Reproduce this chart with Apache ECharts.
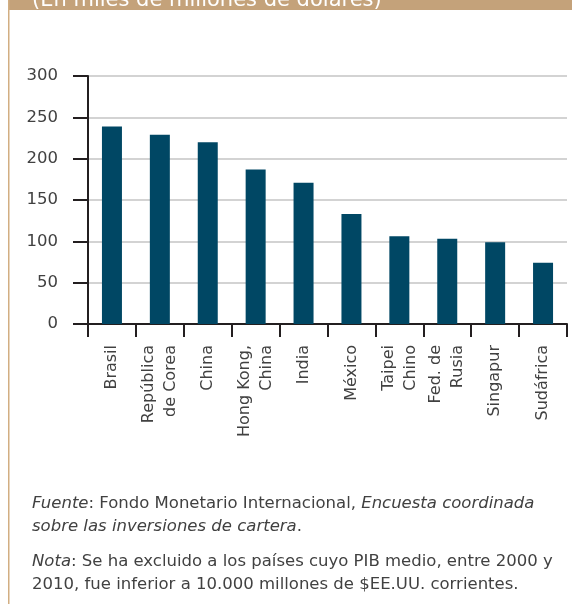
<!DOCTYPE html>
<html>
<head>
<meta charset="utf-8">
<script src="https://cdn.jsdelivr.net/npm/echarts@6/dist/echarts.min.js"></script>
<style>
  html, body { margin: 0; padding: 0; background: #ffffff; }
  #chart { width: 572px; height: 604px; }
</style>
</head>
<body>
<div id="chart"></div>
<script>
// Portfolio investment by country (billions of US dollars)
const categories = ['Brasil', 'República\nde Corea', 'China', 'Hong Kong,\nChina', 'India',
  'México', 'Taipei\nChino', 'Fed. de\nRusia', 'Singapur', 'Sudáfrica'];
const values = [239, 229, 220, 187, 171, 133, 106, 103, 99, 74];
const yTicks = [0, 50, 100, 150, 200, 250, 300];

const headerText = '(En miles de millones de dólares)';
const sourceText = '{i|Fuente}: Fondo Monetario Internacional, {i|Encuesta coordinada}\n{i|sobre las inversiones de cartera}.';
const noteText = '{i|Nota}: Se ha excluido a los países cuyo PIB medio, entre 2000 y\n2010, fue inferior a 10.000 millones de $EE.UU. corrientes.';

const FONT = 'DejaVu Sans';
const TEXT_COLOR = '#414141';
const chart = echarts.init(document.getElementById('chart'), null, { renderer: 'canvas' });

function noteStyle(text) {
  return {
    text: text,
    fill: TEXT_COLOR,
    fontSize: 16.5,
    fontFamily: FONT,
    lineHeight: 23,
    rich: { i: { fontStyle: 'italic', fontSize: 16.5, fontFamily: FONT, fill: TEXT_COLOR, lineHeight: 23 } }
  };
}

chart.setOption({
  animation: false,
  backgroundColor: '#ffffff',
  textStyle: { fontFamily: FONT },
  grid: { left: 88, right: 5, top: 76, bottom: 280, containLabel: false },
  xAxis: {
    type: 'category',
    data: categories,
    boundaryGap: true,
    axisLine: { lineStyle: { color: '#231f20', width: 2 } },
    axisTick: { show: true, length: 13, lineStyle: { color: '#231f20', width: 2 } },
    axisLabel: {
      rotate: 90,
      margin: 21,
      fontSize: 16,
      lineHeight: 22,
      color: TEXT_COLOR,
      fontFamily: FONT,
      interval: 0
    }
  },
  yAxis: {
    type: 'value',
    min: yTicks[0],
    max: yTicks[yTicks.length - 1],
    interval: yTicks[1] - yTicks[0],
    axisLine: { show: true, lineStyle: { color: '#231f20', width: 2 } },
    axisTick: { show: true, length: 15, lineStyle: { color: '#231f20', width: 2 } },
    axisLabel: { margin: 30, fontSize: 16.5, color: TEXT_COLOR, fontFamily: FONT },
    splitLine: { show: true, lineStyle: { color: '#c4c4c4', width: 1.5 } }
  },
  series: [{
    type: 'bar',
    data: values,
    barWidth: 20,
    itemStyle: { color: '#004764' }
  }],
  graphic: [
    { type: 'rect', left: 8, top: 0, shape: { width: 564, height: 10 }, style: { fill: '#c4a27a' }, silent: true },
    { type: 'rect', left: 8, top: 0, shape: { width: 1.5, height: 604 }, style: { fill: '#d2ae82' }, silent: true },
    {
      type: 'text', left: 32, top: -10,
      style: { text: headerText, fill: '#ffffff', font: '21px "' + FONT + '"' },
      silent: true
    },
    { type: 'text', left: 32, top: 492, style: noteStyle(sourceText), silent: true },
    { type: 'text', left: 32, top: 550, style: noteStyle(noteText), silent: true }
  ]
});
</script>
</body>
</html>
